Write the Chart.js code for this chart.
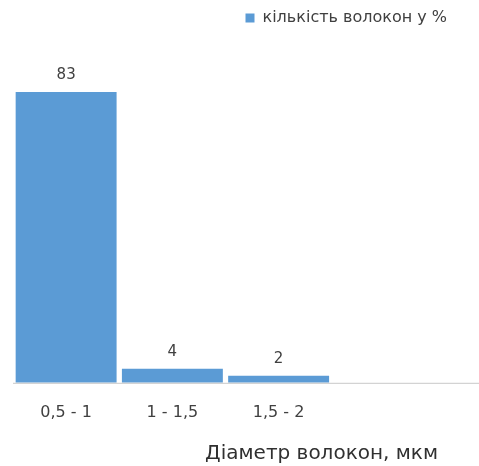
<!DOCTYPE html>
<html>
<head>
<meta charset="utf-8">
<script src="https://cdn.jsdelivr.net/npm/chart.js@4"></script>
<style>
  html, body { margin: 0; padding: 0; background: #fff; }
  #wrap { width: 479px; height: 466px; }
</style>
</head>
<body>
<div id="wrap"><canvas id="fibreChart"></canvas></div>
<script>
const categories = ["0,5 - 1", "1 - 1,5", "1,5 - 2", ""];
const shares = [83, 4, 2, null];
const seriesName = "кількість волокон у %";
const axisTitle = "Діаметр волокон, мкм";

const ctx = document.querySelector("#fibreChart").getContext("2d");
const FONT = "'DejaVu Sans', 'Open Sans', sans-serif";

// value labels above bars + baseline running out to the edge
const barLabels = {
  id: "barLabels",
  afterDatasetsDraw(chart) {
    const c = chart.ctx;
    const area = chart.chartArea;
    const y0 = chart.scales.y.getPixelForValue(0);
    c.save();
    c.strokeStyle = "#c8c8c8";
    c.lineWidth = 1;
    c.beginPath();
    c.moveTo(area.left, y0 + 0.5);
    c.lineTo(chart.width, y0 + 0.5);
    c.stroke();

    c.fillStyle = "#404040";
    c.font = "15px " + FONT;
    c.textAlign = "center";
    c.textBaseline = "bottom";
    chart.getDatasetMeta(0).data.forEach((bar, i) => {
      if (shares[i] == null) return;
      c.fillText(String(shares[i]), bar.x, bar.y - 9);
    });
    c.restore();
  },
};

const config = {
  type: "bar",
  data: {
    labels: categories,
    datasets: [
      {
        label: seriesName,
        data: shares,
        backgroundColor: "#5b9bd5",
        borderWidth: 0,
        categoryPercentage: 1,
        barPercentage: 0.95,
      },
    ],
  },
  options: {
    responsive: true,
    maintainAspectRatio: false,
    animation: false,
    layout: { padding: { left: 13, right: 26, top: 4, bottom: 0 } },
    plugins: {
      tooltip: { enabled: false },
      legend: {
        position: "top",
        align: "end",
        labels: {
          boxWidth: 9,
          boxHeight: 9,
          color: "#404040",
          font: { family: FONT, size: 16 },
          padding: 6,
        },
      },
    },
    scales: {
      x: {
        grid: { display: false, drawTicks: false },
        border: { display: false },
        ticks: {
          color: "#404040",
          font: { family: FONT, size: 16 },
          padding: 20,
        },
        title: {
          display: true,
          text: axisTitle,
          align: "end",
          color: "#303030",
          font: { family: FONT, size: 20 },
          padding: { top: 0, bottom: 0 },
        },
      },
      y: {
        position: "right",
        min: 0,
        max: 99,
        grid: { display: false, drawTicks: false },
        border: { display: false },
        ticks: { display: false },
        afterFit(scale) {
          scale.width = 15;
        },
      },
    },
  },
  plugins: [barLabels],
};

const fibreChart = new Chart(ctx, config);
</script>
</body>
</html>
